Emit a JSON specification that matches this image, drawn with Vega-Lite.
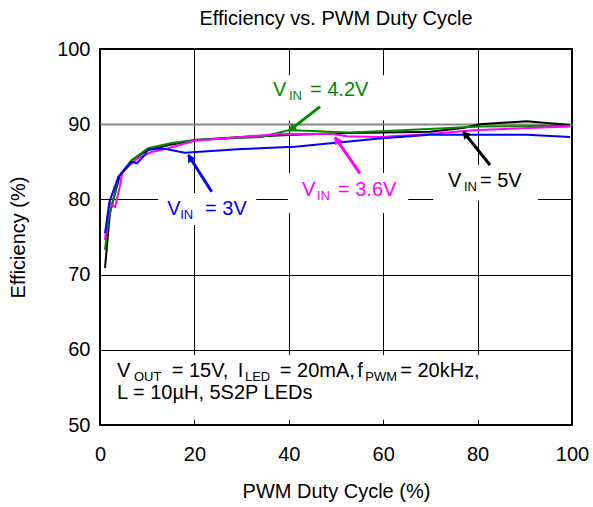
{
  "$schema": "https://vega.github.io/schema/vega-lite/v6.json",
  "autosize": {"type": "none"},
  "width": 472,
  "height": 376,
  "padding": {"left": 100, "top": 49, "right": 21, "bottom": 82},
  "background": "white",
  "title": {"text": "Efficiency vs. PWM Duty Cycle", "fontSize": 20, "fontWeight": "normal", "font": "Liberation Sans", "color": "black", "offset": 10, "anchor": "middle", "frame": "group"},
  "config": {
    "view": {"stroke": "black", "strokeWidth": 2},
    "font": "Liberation Sans",
    "axis": {"labelFont": "Liberation Sans", "titleFont": "Liberation Sans", "labelColor": "black", "titleColor": "black", "labelFontSize": 20, "titleFontSize": 20, "titleFontWeight": "normal", "tickSize": 0, "domain": false,
      "gridColor": {"condition": {"test": "datum.value === 90", "value": "#858585"}, "value": "black"},
      "gridWidth": {"condition": {"test": "datum.value === 90", "value": 2}, "value": 1},
      "gridOpacity": 1}
  },
  "datasets": {
    "curves": [
      {"s": "5V", "x": 1.06, "y": 70.9}, {"s": "5V", "x": 2.1, "y": 78.2}, {"s": "5V", "x": 4.2, "y": 83.2}, {"s": "5V", "x": 6.7, "y": 85.2}, {"s": "5V", "x": 10.2, "y": 86.6}, {"s": "5V", "x": 14.4, "y": 87.2}, {"s": "5V", "x": 20.1, "y": 87.9}, {"s": "5V", "x": 30, "y": 88.3}, {"s": "5V", "x": 41.3, "y": 88.6}, {"s": "5V", "x": 50, "y": 88.8}, {"s": "5V", "x": 60.7, "y": 88.9}, {"s": "5V", "x": 69.9, "y": 89.0}, {"s": "5V", "x": 76.9, "y": 89.5}, {"s": "5V", "x": 80.5, "y": 90.0}, {"s": "5V", "x": 90.4, "y": 90.4}, {"s": "5V", "x": 99.6, "y": 89.9},
      {"s": "4.2V", "x": 1.06, "y": 73.3}, {"s": "4.2V", "x": 1.8, "y": 77.3}, {"s": "4.2V", "x": 3.9, "y": 83.0}, {"s": "4.2V", "x": 6.7, "y": 85.2}, {"s": "4.2V", "x": 10.2, "y": 86.8}, {"s": "4.2V", "x": 15.2, "y": 87.5}, {"s": "4.2V", "x": 20, "y": 87.9}, {"s": "4.2V", "x": 34.3, "y": 88.3}, {"s": "4.2V", "x": 39.9, "y": 89.2}, {"s": "4.2V", "x": 45.2, "y": 89.1}, {"s": "4.2V", "x": 52.3, "y": 88.9}, {"s": "4.2V", "x": 60.7, "y": 89.1}, {"s": "4.2V", "x": 80.5, "y": 89.7}, {"s": "4.2V", "x": 99.6, "y": 89.8},
      {"s": "3.6V", "x": 1.06, "y": 74.6}, {"s": "3.6V", "x": 1.9, "y": 79.5}, {"s": "3.6V", "x": 3.2, "y": 79.0}, {"s": "3.6V", "x": 4.2, "y": 81.7}, {"s": "3.6V", "x": 4.7, "y": 83.5}, {"s": "3.6V", "x": 6.0, "y": 84.4}, {"s": "3.6V", "x": 8.1, "y": 85.5}, {"s": "3.6V", "x": 10.9, "y": 86.3}, {"s": "3.6V", "x": 14.5, "y": 86.8}, {"s": "3.6V", "x": 20, "y": 87.8}, {"s": "3.6V", "x": 30, "y": 88.3}, {"s": "3.6V", "x": 38.1, "y": 88.7}, {"s": "3.6V", "x": 49.4, "y": 88.7}, {"s": "3.6V", "x": 52.3, "y": 88.4}, {"s": "3.6V", "x": 59.3, "y": 88.3}, {"s": "3.6V", "x": 69.9, "y": 88.7}, {"s": "3.6V", "x": 79.1, "y": 89.2}, {"s": "3.6V", "x": 99.6, "y": 89.7},
      {"s": "3V", "x": 1.06, "y": 75.5}, {"s": "3V", "x": 2.1, "y": 79.9}, {"s": "3V", "x": 3.9, "y": 83.0}, {"s": "3V", "x": 6.7, "y": 85.0}, {"s": "3V", "x": 7.8, "y": 84.8}, {"s": "3V", "x": 9.2, "y": 85.7}, {"s": "3V", "x": 10.2, "y": 86.6}, {"s": "3V", "x": 13.1, "y": 86.8}, {"s": "3V", "x": 18.0, "y": 86.2}, {"s": "3V", "x": 30, "y": 86.7}, {"s": "3V", "x": 41.3, "y": 87.0}, {"s": "3V", "x": 59.3, "y": 88.1}, {"s": "3V", "x": 69.9, "y": 88.6}, {"s": "3V", "x": 90.4, "y": 88.6}, {"s": "3V", "x": 99.6, "y": 88.3}
    ],
    "boxes": [
      {"x": 36.4, "x2": 60.4, "y": 96.5, "y2": 90.5},
      {"x": 39.8, "x2": 65.3, "y": 83.5, "y2": 78.2},
      {"x": 70.6, "x2": 92.8, "y": 84.6, "y2": 79.85},
      {"x": 12.3, "x2": 33.1, "y": 80.85, "y2": 76.6},
      {"x": 0.3, "x2": 99.7, "y": 59.3, "y2": 50.7}
    ],
    "arrows": [
      {"s": "3V", "x": 23.67, "y": 81.02, "x2": 18.71, "y2": 85.9},
      {"s": "4.2V", "x": 46.61, "y": 92.33, "x2": 40.11, "y2": 89.14},
      {"s": "3.6V", "x": 55.08, "y": 83.47, "x2": 49.79, "y2": 88.26},
      {"s": "5V", "x": 82.63, "y": 84.57, "x2": 76.97, "y2": 89.0}
    ],
    "labels": [
      {"s": "3V", "k": "main", "t": "V", "x": 14.24, "y": 77.93},
      {"s": "3V", "k": "sub", "t": "IN", "x": 17.0, "y": 77.46},
      {"s": "3V", "k": "main", "t": "= 3V", "x": 22.25, "y": 77.93},
      {"s": "4.2V", "k": "main", "t": "V", "x": 36.65, "y": 93.75},
      {"s": "4.2V", "k": "sub", "t": "IN", "x": 40.04, "y": 93.22},
      {"s": "4.2V", "k": "main", "t": "= 4.2V", "x": 44.49, "y": 93.75},
      {"s": "3.6V", "k": "main", "t": "V", "x": 42.8, "y": 80.45},
      {"s": "3.6V", "k": "sub", "t": "IN", "x": 45.97, "y": 79.88},
      {"s": "3.6V", "k": "main", "t": "= 3.6V", "x": 50.42, "y": 80.45},
      {"s": "5V", "k": "main", "t": "V", "x": 73.73, "y": 81.65},
      {"s": "5V", "k": "sub", "t": "IN", "x": 77.12, "y": 81.16},
      {"s": "5V", "k": "main", "t": "= 5V", "x": 80.51, "y": 81.65},
      {"s": "note", "k": "main", "t": "V", "x": 3.6, "y": 56.42},
      {"s": "note", "k": "sub", "t": "OUT", "x": 7.2, "y": 55.85},
      {"s": "note", "k": "main", "t": "= 15V,", "x": 15.2, "y": 56.42},
      {"s": "note", "k": "main", "t": "I", "x": 29.2, "y": 56.42},
      {"s": "note", "k": "sub", "t": "LED", "x": 30.7, "y": 55.85},
      {"s": "note", "k": "main", "t": "= 20mA,", "x": 38.1, "y": 56.42},
      {"s": "note", "k": "main", "t": "f", "x": 54.5, "y": 56.42},
      {"s": "note", "k": "sub", "t": "PWM", "x": 56.2, "y": 55.85},
      {"s": "note", "k": "main", "t": "= 20kHz,", "x": 63.6, "y": 56.42},
      {"s": "note", "k": "main", "t": "L = 10µH, 5S2P LEDs", "x": 3.6, "y": 53.52}
    ]
  },
  "encoding": {
    "x": {"field": "x", "type": "quantitative", "scale": {"domain": [0, 100], "nice": false, "zero": false},
      "axis": {"values": [0, 20, 40, 60, 80, 100], "title": "PWM Duty Cycle (%)", "labelPadding": 19, "titleY": 66, "titleBaseline": "middle", "labelFlush": false}},
    "y": {"field": "y", "type": "quantitative", "scale": {"domain": [50, 100], "nice": false, "zero": false},
      "axis": {"values": [50, 60, 70, 80, 90, 100], "title": "Efficiency (%)", "labelPadding": 10, "titleX": -82, "titleY": 188, "titleBaseline": "middle", "titleAngle": -90, "labelFlush": false}}
  },
  "layer": [
    {"data": {"name": "boxes"}, "mark": {"type": "rect", "fill": "white", "stroke": null},
      "encoding": {"x2": {"field": "x2"}, "y2": {"field": "y2"}}},
    {"data": {"name": "curves"}, "mark": {"type": "line", "strokeWidth": 2},
      "encoding": {"color": {"field": "s", "type": "nominal", "legend": null, "scale": {"domain": ["3V", "3.6V", "4.2V", "5V", "note"], "range": ["#0000ff", "#ff00ff", "#008a00", "#000000", "#000000"]}}, "order": {"field": "x", "type": "quantitative"}}},
    {"data": {"name": "arrows"}, "mark": {"type": "rule", "strokeWidth": 3},
      "encoding": {"x2": {"field": "x2"}, "y2": {"field": "y2"}, "color": {"field": "s", "type": "nominal", "legend": null, "scale": {"domain": ["3V", "3.6V", "4.2V", "5V", "note"], "range": ["#0000ff", "#ff00ff", "#008a00", "#000000", "#000000"]}}}},
    {"data": {"values": [{"x": 19.05, "y": 85.57}]}, "mark": {"type": "point", "shape": "triangle-up", "filled": true, "size": 80, "angle": -32.5, "color": "#0000ff", "opacity": 1}, "encoding": {}},
    {"data": {"values": [{"x": 40.61, "y": 89.38}]}, "mark": {"type": "point", "shape": "triangle-up", "filled": true, "size": 80, "angle": -128, "color": "#008a00", "opacity": 1}, "encoding": {}},
    {"data": {"values": [{"x": 50.15, "y": 87.93}]}, "mark": {"type": "point", "shape": "triangle-up", "filled": true, "size": 80, "angle": -34.8, "color": "#ff00ff", "opacity": 1}, "encoding": {}},
    {"data": {"values": [{"x": 77.37, "y": 88.7}]}, "mark": {"type": "point", "shape": "triangle-up", "filled": true, "size": 80, "angle": -38.7, "color": "#000000", "opacity": 1}, "encoding": {}},
    {"data": {"name": "labels"}, "transform": [{"filter": "datum.k === 'main'"}],
      "mark": {"type": "text", "align": "left", "baseline": "alphabetic", "fontSize": 20, "font": "Liberation Sans"},
      "encoding": {"text": {"field": "t"}, "color": {"field": "s", "type": "nominal", "legend": null, "scale": {"domain": ["3V", "3.6V", "4.2V", "5V", "note"], "range": ["#0000ff", "#ff00ff", "#008a00", "#000000", "#000000"]}}}},
    {"data": {"name": "labels"}, "transform": [{"filter": "datum.k === 'sub'"}],
      "mark": {"type": "text", "align": "left", "baseline": "alphabetic", "fontSize": 13, "font": "Liberation Sans"},
      "encoding": {"text": {"field": "t"}, "color": {"field": "s", "type": "nominal", "legend": null, "scale": {"domain": ["3V", "3.6V", "4.2V", "5V", "note"], "range": ["#0000ff", "#ff00ff", "#008a00", "#000000", "#000000"]}}}}
  ]
}
